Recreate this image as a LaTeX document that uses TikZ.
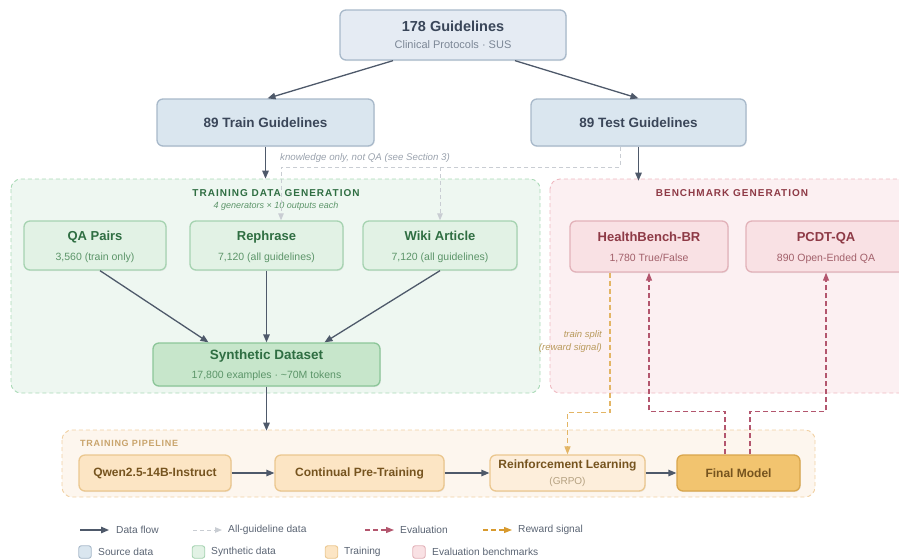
\documentclass[tikz,border=0pt]{standalone}
\usepackage{fontspec}
\setmainfont{Liberation Sans}
\usepackage{tikz}
\usetikzlibrary{arrows.meta, shadows}

\definecolor{srcfilltop}{HTML}{E5EBF3}
\definecolor{srcfill}{HTML}{DAE6EF}
\definecolor{srcline}{HTML}{A8B9CA}
\definecolor{srctext}{HTML}{3A4659}
\definecolor{srcsub}{HTML}{7C8796}
\definecolor{genregion}{HTML}{EEF7F1}
\definecolor{genregionline}{HTML}{A9D9B6}
\definecolor{genfill}{HTML}{E2F2E5}
\definecolor{genline}{HTML}{A6D3B1}
\definecolor{gentext}{HTML}{2F6E42}
\definecolor{gensub}{HTML}{5C9569}
\definecolor{synfill}{HTML}{C7E6CB}
\definecolor{synline}{HTML}{8CC699}
\definecolor{benchregion}{HTML}{FCF0F2}
\definecolor{benchregionline}{HTML}{EFB9C1}
\definecolor{benchfill}{HTML}{F9E1E4}
\definecolor{benchline}{HTML}{E2B2B9}
\definecolor{benchtext}{HTML}{8E3A46}
\definecolor{benchsub}{HTML}{A2606A}
\definecolor{piperegion}{HTML}{FDF6EE}
\definecolor{piperegionline}{HTML}{F1D0A2}
\definecolor{pipefill}{HTML}{FCE5C4}
\definecolor{pipeline}{HTML}{EBC78F}
\definecolor{pipetext}{HTML}{76541F}
\definecolor{pipetitle}{HTML}{C9A46C}
\definecolor{rlfill}{HTML}{FDEEDB}
\definecolor{rlsub}{HTML}{B4A080}
\definecolor{finalfill}{HTML}{F2C46F}
\definecolor{finalline}{HTML}{D9A64C}
\definecolor{flowgray}{HTML}{4E596A}
\definecolor{allgray}{HTML}{C9CDD3}
\definecolor{knowgray}{HTML}{9AA2AD}
\definecolor{evalred}{HTML}{B3566E}
\definecolor{rewardorange}{HTML}{E3B565}
\definecolor{rewarddark}{HTML}{D89A2E}
\definecolor{rewardtext}{HTML}{B99A5C}
\definecolor{legendtext}{HTML}{5A6473}

\begin{document}
\begin{tikzpicture}[x=1pt, y=-1pt,
	box/.style={rounded corners=6pt, line width=1.3pt, inner sep=0pt, align=center,
		drop shadow={shadow xshift=0.8pt, shadow yshift=-1pt, opacity=0.12}},
	srcbox/.style={box, draw=srcline, fill=srcfill, text=srctext},
	genbox/.style={box, draw=genline, fill=genfill, text=gensub, text depth=0pt, font=\fontsize{10.5}{20}\selectfont},
	benchbox/.style={box, draw=benchline, fill=benchfill, text=benchsub, text depth=0pt, font=\fontsize{10.5}{20}\selectfont},
	pipebox/.style={box, draw=pipeline, fill=pipefill, text=pipetext, font=\fontsize{12}{16}\selectfont\bfseries},
	region/.style={dash pattern=on 4pt off 3pt, line width=0.9pt, rounded corners=10pt},
	regiontitle/.style={font=\fontsize{10}{12}\selectfont\bfseries\addfontfeatures{LetterSpace=10}},
	flowarrow/.style={-{Stealth[length=8pt, width=6.5pt, inset=0pt]}, line width=1.3pt, flowgray},
	allarrow/.style={-{Stealth[length=7pt, width=5.5pt, inset=0pt]}, line width=1pt, allgray, dash pattern=on 4pt off 3pt},
	evalarrow/.style={-{Stealth[length=8pt, width=6pt, inset=0pt]}, line width=1.2pt, evalred, dash pattern=on 5pt off 3pt},
	rewardarrow/.style={-{Stealth[length=8pt, width=6pt, inset=0pt]}, line width=1.2pt, rewardorange, dash pattern=on 5pt off 3pt},
	legendtext/.style={font=\fontsize{10.2}{12}\selectfont, text=legendtext, anchor=west, inner sep=0pt},
	legendbox/.style={rounded corners=2.5pt, line width=0.9pt, minimum size=12.5pt, inner sep=0pt}
	]
	\useasboundingbox (0,0) rectangle (899,558);

	% Draw the three regions
	\draw[region, genregionline, fill=genregion] (11,179) rectangle (540,393);
	\draw[region, benchregionline, fill=benchregion] (550,179) rectangle (920,393);
	\draw[region, piperegionline, fill=piperegion] (62,430) rectangle (815,497);

	% Region titles
	\node[regiontitle, text=gentext] (gentitle) at (276,193) {TRAINING DATA GENERATION};
	\node[font=\fontsize{9}{11}\selectfont\itshape, text=gensub] (gennote) at (276,206) {4 generators × 10 outputs each};
	\node[regiontitle, text=benchtext] (benchtitle) at (732,193) {BENCHMARK GENERATION};
	\node[font=\fontsize{9}{11}\selectfont\bfseries\addfontfeatures{LetterSpace=8}, text=pipetitle, anchor=west, inner sep=0pt] (pipetitle) at (80,443) {TRAINING PIPELINE};

	% Source guidelines
	\node[srcbox, fill=srcfilltop, minimum width=226pt, minimum height=50pt, font=\fontsize{11}{17}\selectfont] (allguide) at (453,35)
		{{\fontsize{14.5}{17}\selectfont\bfseries 178 Guidelines}\\{\color{srcsub}Clinical Protocols · SUS}};
	\node[srcbox, minimum width=217pt, minimum height=47pt, font=\fontsize{13.5}{16}\selectfont\bfseries] (train) at (265.5,122.5) {89 Train Guidelines};
	\node[srcbox, minimum width=215pt, minimum height=47pt, font=\fontsize{13.5}{16}\selectfont\bfseries] (test) at (638.5,122.5) {89 Test Guidelines};

	% Generators
	\node[genbox, minimum width=142pt, minimum height=49pt] (qa) at (95,245.5)
		{{\fontsize{13}{16}\selectfont\bfseries\color{gentext}QA Pairs}\\3,560 (train only)};
	\node[genbox, minimum width=153pt, minimum height=49pt] (rephrase) at (266.5,245.5)
		{{\fontsize{13}{16}\selectfont\bfseries\color{gentext}Rephrase}\\7,120 (all guidelines)};
	\node[genbox, minimum width=154pt, minimum height=49pt] (wiki) at (440,245.5)
		{{\fontsize{13}{16}\selectfont\bfseries\color{gentext}Wiki Article}\\7,120 (all guidelines)};
	\node[genbox, draw=synline, fill=synfill, minimum width=227pt, minimum height=43pt, font=\fontsize{10.5}{19}\selectfont] (synth) at (266.5,364.5)
		{{\fontsize{13.5}{16}\selectfont\bfseries\color{gentext}Synthetic Dataset}\\17,800 examples · \textasciitilde70M tokens};

	% Benchmarks
	\node[benchbox, minimum width=158pt, minimum height=51pt] (health) at (649,246.5)
		{{\fontsize{13}{16}\selectfont\bfseries\color{benchtext}HealthBench-BR}\\1,780 True/False};
	\node[benchbox, minimum width=160pt, minimum height=51pt] (pcdt) at (826,246.5)
		{{\fontsize{13}{16}\selectfont\bfseries\color{benchtext}PCDT-QA}\\890 Open-Ended QA};

	% Training pipeline
	\node[pipebox, minimum width=152pt, minimum height=36pt] (qwen) at (155,473) {Qwen2.5-14B-Instruct};
	\node[pipebox, minimum width=169pt, minimum height=36pt] (cpt) at (359.5,473) {Continual Pre-Training};
	\node[pipebox, fill=rlfill, minimum width=155pt, minimum height=36pt] (rl) at (567.5,473)
		{Reinforcement Learning\\{\fontsize{10}{12}\selectfont\mdseries\color{rlsub}(GRPO)}};
	\node[pipebox, draw=finalline, fill=finalfill, minimum width=123pt, minimum height=36pt] (final) at (738.5,473) {Final Model};

	% Data flow
	\draw[flowarrow] ([xshift=-60pt]allguide.south) -- ([xshift=2pt]train.north);
	\draw[flowarrow] ([xshift=62pt]allguide.south) -- (test.north);
	\draw[flowarrow] (train.south) -- ++(0,32);
	\draw[flowarrow] (test.south) -- ++(0,34);
	\draw[flowarrow] ([xshift=5pt]qa.south) -- ([xshift=-58pt]synth.north);
	\draw[flowarrow] (rephrase.south) -- (synth.north);
	\draw[flowarrow] (wiki.south) -- ([xshift=58pt]synth.north);
	\draw[flowarrow] (synth.south) -- ++(0,44);
	\draw[flowarrow] (qwen) -- (cpt);
	\draw[flowarrow] (cpt) -- (rl);
	\draw[flowarrow] (rl) -- (final);

	% All-guideline data (knowledge only)
	\coordinate (kright) at (620,167);
	\coordinate (kleft) at (281,167);
	\draw[allarrow] ([xshift=-18.5pt]test.south) -- (kright) -- (kleft) -- (kleft |- rephrase.north);
	\draw[allarrow] (kright -| wiki.north) -- (wiki.north);
	\node[font=\fontsize{9.7}{11}\selectfont\itshape, text=knowgray, anchor=west, inner sep=0pt] (knownote) at (280,158) {knowledge only, not QA (see Section 3)};

	% Evaluation and reward signal
	\draw[evalarrow] ([xshift=-13.5pt]final.north) -- ++(0,-43) -| (health.south);
	\draw[evalarrow] ([xshift=11.5pt]final.north) -- ++(0,-43) -| (pcdt.south);
	\draw[rewardarrow] ([xshift=-39pt]health.south) -- ++(0,140) -| (rl.north);
	\node[font=\fontsize{9.5}{13}\selectfont\itshape, text=rewardtext, anchor=east, align=right, inner sep=0pt] (rewardnote) at (602,342) {train split\\(reward signal)};

	% Legend
	\coordinate (lflow) at (80,530);
	\draw[flowarrow] (lflow) -- ++(29,0);
	\node[legendtext] (lflowtext) at (116,530) {Data flow};
	\coordinate (lall) at (193,530);
	\draw[allarrow] (lall) -- ++(29,0);
	\node[legendtext] (lalltext) at (228,530) {All-guideline data};
	\coordinate (leval) at (365,530);
	\draw[evalarrow] (leval) -- ++(29,0);
	\node[legendtext] (levaltext) at (400,530) {Evaluation};
	\coordinate (lreward) at (483,530);
	\draw[rewardarrow, rewarddark] (lreward) -- ++(29,0);
	\node[legendtext] (lrewardtext) at (518,530) {Reward signal};

	\node[legendbox, draw=srcline, fill=srcfill] (lsrc) at (85,552) {};
	\node[legendtext] (lsrctext) at (98,552) {Source data};
	\node[legendbox, draw=genline, fill=genfill] (lgen) at (198.5,552) {};
	\node[legendtext] (lgentext) at (211,552) {Synthetic data};
	\node[legendbox, draw=pipeline, fill=pipefill] (lpipe) at (331.5,552) {};
	\node[legendtext] (lpipetext) at (344,552) {Training};
	\node[legendbox, draw=benchline, fill=benchfill] (lbench) at (419,552) {};
	\node[legendtext] (lbenchtext) at (432,552) {Evaluation benchmarks};
\end{tikzpicture}
\end{document}
